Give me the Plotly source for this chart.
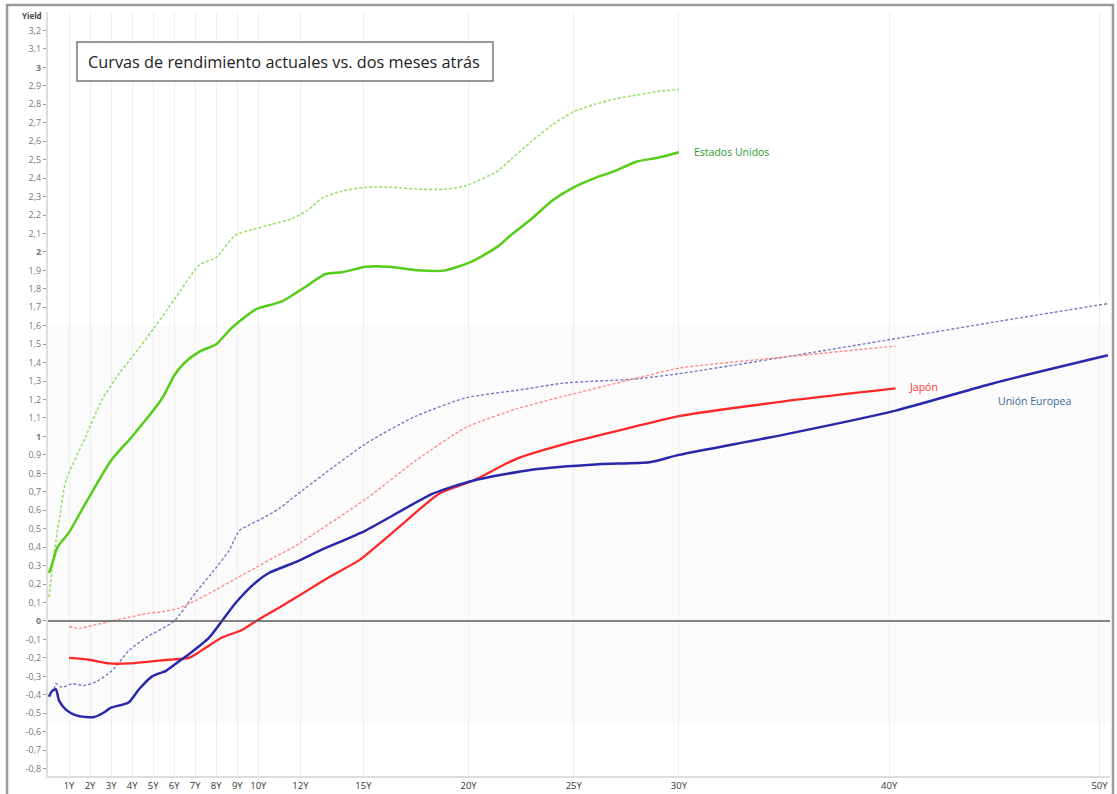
import plotly.graph_objects as go

# ---------------- data ----------------
us_now_x = [0.05, 0.2, 0.45, 1.0, 1.5, 2.0, 3.0, 4.0, 5.0, 5.5, 6.0, 6.5, 7.2, 8.0, 8.75, 9.9, 11.1, 12.1,
            13.2, 14.0, 15.1, 16.2, 17.6, 18.9, 20.2, 21.4, 22.0, 23.0, 24.0, 25.0, 26.0, 27.0, 28.0, 29.0, 30.0]
us_now_y = [0.26, 0.31, 0.40, 0.48, 0.58, 0.68, 0.87, 1.00, 1.14, 1.22, 1.33, 1.40, 1.46, 1.50, 1.59, 1.69, 1.73, 1.80,
            1.88, 1.89, 1.92, 1.92, 1.90, 1.90, 1.95, 2.03, 2.09, 2.18, 2.28, 2.35, 2.40, 2.44, 2.49, 2.51, 2.54]

us_prev_x = [0.05, 0.2, 0.3, 0.45, 0.55, 0.85, 1.8, 2.57, 3.38, 4.0, 5.0, 6.0, 7.2, 8.0, 8.9, 9.7, 10.65, 11.6,
             12.4, 13.0, 14.0, 15.1, 16.4, 17.5, 18.9, 19.9, 21.4, 22.0, 23.0, 24.0, 25.0, 26.0, 27.0, 28.0, 29.0, 30.0]
us_prev_y = [0.13, 0.28, 0.37, 0.49, 0.56, 0.76, 1.00, 1.20, 1.34, 1.43, 1.58, 1.74, 1.93, 1.97, 2.09, 2.12, 2.15, 2.18,
             2.23, 2.29, 2.33, 2.35, 2.35, 2.34, 2.34, 2.36, 2.44, 2.50, 2.60, 2.69, 2.76, 2.80, 2.83, 2.85, 2.87, 2.88]

eu_now_x = [0.05, 0.19, 0.38, 0.52, 0.85, 1.3, 1.8, 2.2, 2.6, 3.0, 3.5, 3.85, 4.33, 4.95, 5.61, 6.09, 6.7, 7.66, 8.27,
            8.94, 9.89, 10.5, 11.8, 12.9, 15.1, 18.3, 20.2, 23.0, 26.2, 28.6, 30.0, 35.0, 40.3, 45.0, 50.4]
eu_now_y = [-0.41, -0.38, -0.37, -0.43, -0.48, -0.51, -0.52, -0.52, -0.50, -0.47, -0.455, -0.44, -0.37, -0.30, -0.27,
            -0.23, -0.18, -0.09, 0.00, 0.10, 0.21, 0.26, 0.32, 0.38, 0.49, 0.69, 0.76, 0.82, 0.85, 0.86, 0.90, 1.01,
            1.14, 1.29, 1.44]

eu_prev_x = [0.3, 0.38, 0.67, 1.14, 1.71, 2.28, 3.04, 3.85, 4.66, 6.0, 7.0, 8.0, 8.6, 9.1, 9.56, 10.1, 11.0, 11.9,
             15.1, 17.5, 19.9, 22.3, 24.6, 27.8, 30.0, 35.0, 40.3, 45.0, 50.4]
eu_prev_y = [-0.37, -0.34, -0.36, -0.34, -0.35, -0.33, -0.27, -0.16, -0.09, 0.00, 0.15, 0.29, 0.38, 0.49, 0.52, 0.55,
             0.61, 0.69, 0.96, 1.11, 1.21, 1.25, 1.29, 1.31, 1.34, 1.43, 1.53, 1.62, 1.72]

jp_now_x = [1.0, 1.95, 2.9, 3.85, 4.8, 5.75, 6.7, 7.3, 8.27, 9.2, 9.9, 11.1, 12.4, 13.4, 14.8, 16.7, 18.6, 20.2,
            22.3, 24.6, 27.8, 30.0, 35.0, 40.3]
jp_now_y = [-0.20, -0.21, -0.23, -0.23, -0.22, -0.21, -0.20, -0.16, -0.09, -0.05, 0.00, 0.08, 0.17, 0.24, 0.33, 0.51,
            0.69, 0.76, 0.88, 0.96, 1.05, 1.11, 1.19, 1.26]

jp_prev_x = [1.0, 1.5, 2.28, 3.04, 3.85, 4.66, 5.42, 6.23, 7.0, 8.0, 8.94, 9.89, 10.84, 11.8, 15.1, 17.5, 19.9,
             22.3, 24.6, 27.8, 30.0, 35.0, 40.3]
jp_prev_y = [-0.03, -0.04, -0.02, 0.00, 0.02, 0.04, 0.05, 0.07, 0.11, 0.17, 0.23, 0.29, 0.35, 0.41, 0.66, 0.87, 1.05,
             1.15, 1.22, 1.31, 1.37, 1.43, 1.49]

x_tick_vals = [1, 2, 3, 4, 5, 6, 7, 8, 9, 10, 12, 15, 20, 25, 30, 40, 50]
x_tick_text = ["1Y", "2Y", "3Y", "4Y", "5Y", "6Y", "7Y", "8Y", "9Y", "10Y", "12Y", "15Y", "20Y", "25Y", "30Y", "40Y", "50Y"]

y_tick_vals = [round(-0.8 + 0.1 * i, 1) for i in range(41)]
y_tick_text = ["<b>%d</b>" % round(v) if abs(v - round(v)) < 1e-9 else ("%.1f" % v).replace(".", ",")
               for v in y_tick_vals]

title_text = "Curvas de rendimiento actuales vs. dos meses atrás"

# ---------------- layout helpers ----------------
W, H = 1117, 794
ML, MR, MT, MB = 48, 7, 12, 18
PW, PH = W - ML - MR, H - MT - MB


def px(xp):
    return (xp - ML) / PW


def py(yp):
    return (H - MB - yp) / PH


fig = go.Figure()


def add_line(x, y, color, width, dash=None):
    fig.add_trace(go.Scatter(x=x, y=y, mode="lines", line=dict(color=color, width=width, dash=dash, shape="spline",
                                                               smoothing=0.6),
                             showlegend=False, hoverinfo="skip"))


add_line(us_prev_x, us_prev_y, "#9ddf6a", 1.6, "3px,2px")
add_line(eu_prev_x, eu_prev_y, "#7a7ac4", 1.4, "3px,2px")
add_line(jp_prev_x, jp_prev_y, "#ff8a8a", 1.4, "3px,2px")
add_line(us_now_x, us_now_y, "#55cc18", 2.5)
add_line(jp_now_x, jp_now_y, "#ff2828", 2.3)
add_line(eu_now_x, eu_now_y, "#2828aa", 2.5)

shapes = [
    # light band
    dict(type="rect", xref="paper", yref="y", x0=0, x1=1, y0=-0.55, y1=1.6,
         fillcolor="#fbfbfb", line=dict(width=0), layer="below"),
    # zero line
    dict(type="line", xref="paper", yref="y", x0=0, x1=1, y0=0, y1=0, line=dict(color="#5a5a5a", width=1.5)),
    # title box
    dict(type="rect", xref="paper", yref="paper", x0=px(77), x1=px(493), y0=py(81), y1=py(42),
         fillcolor="white", line=dict(color="#777777", width=1.5)),
    # outer frame
    dict(type="rect", xref="paper", yref="paper", x0=px(7), x1=px(1113), y0=py(800), y1=py(5),
         line=dict(color="#9a9a9a", width=2.5)),
]

annotations = [
    dict(xref="paper", yref="paper", x=px(284), y=py(61.5), text=title_text, showarrow=False,
         font=dict(family="Open Sans, Noto Sans, sans-serif", size=16.3, color="#222222"),
         xanchor="center", yanchor="middle"),
    dict(xref="paper", yref="paper", x=px(32), y=py(16), text="<b>Yield</b>", showarrow=False,
         font=dict(family="Open Sans, sans-serif", size=8, color="#444444"), xanchor="center", yanchor="middle"),
    dict(xref="x", yref="y", x=30.6, y=2.54, text="Estados Unidos", showarrow=False,
         font=dict(family="Open Sans, sans-serif", size=10.5, color="#2f9a2f"), xanchor="left", yanchor="middle"),
    dict(xref="x", yref="y", x=40.85, y=1.27, text="Japón", showarrow=False,
         font=dict(family="Open Sans, sans-serif", size=10.5, color="#ff3030"), xanchor="left", yanchor="middle"),
    dict(xref="x", yref="y", x=45.1, y=1.19, text="Unión Europea", showarrow=False,
         font=dict(family="Open Sans, sans-serif", size=10.5, color="#3a6a9a"), xanchor="left", yanchor="middle"),
]

fig.update_layout(
    width=W, height=H,
    margin=dict(l=ML, r=MR, t=MT, b=MB, autoexpand=False),
    paper_bgcolor="white", plot_bgcolor="white",
    shapes=shapes, annotations=annotations,
    xaxis=dict(range=[0, 50.5], tickmode="array", tickvals=x_tick_vals, ticktext=x_tick_text,
               showgrid=True, gridcolor="#efefef", gridwidth=1, zeroline=False, automargin=False,
               showline=True, linecolor="#dddddd", linewidth=2, ticks="",
               tickfont=dict(family="Open Sans, sans-serif", size=9.5, color="#333333")),
    yaxis=dict(range=[-0.84, 3.30], tickmode="array", tickvals=y_tick_vals, ticktext=y_tick_text,
               showgrid=False, zeroline=False, showline=True, linecolor="#dddddd", linewidth=2, automargin=False,
               ticks="outside", ticklen=3, tickcolor="#999999",
               tickfont=dict(family="Open Sans, sans-serif", size=9, color="#777777")),
)

fig.write_html("out.html", config={"displayModeBar": False},
               post_script="document.body.style.margin='0';document.body.style.overflow='hidden';")
